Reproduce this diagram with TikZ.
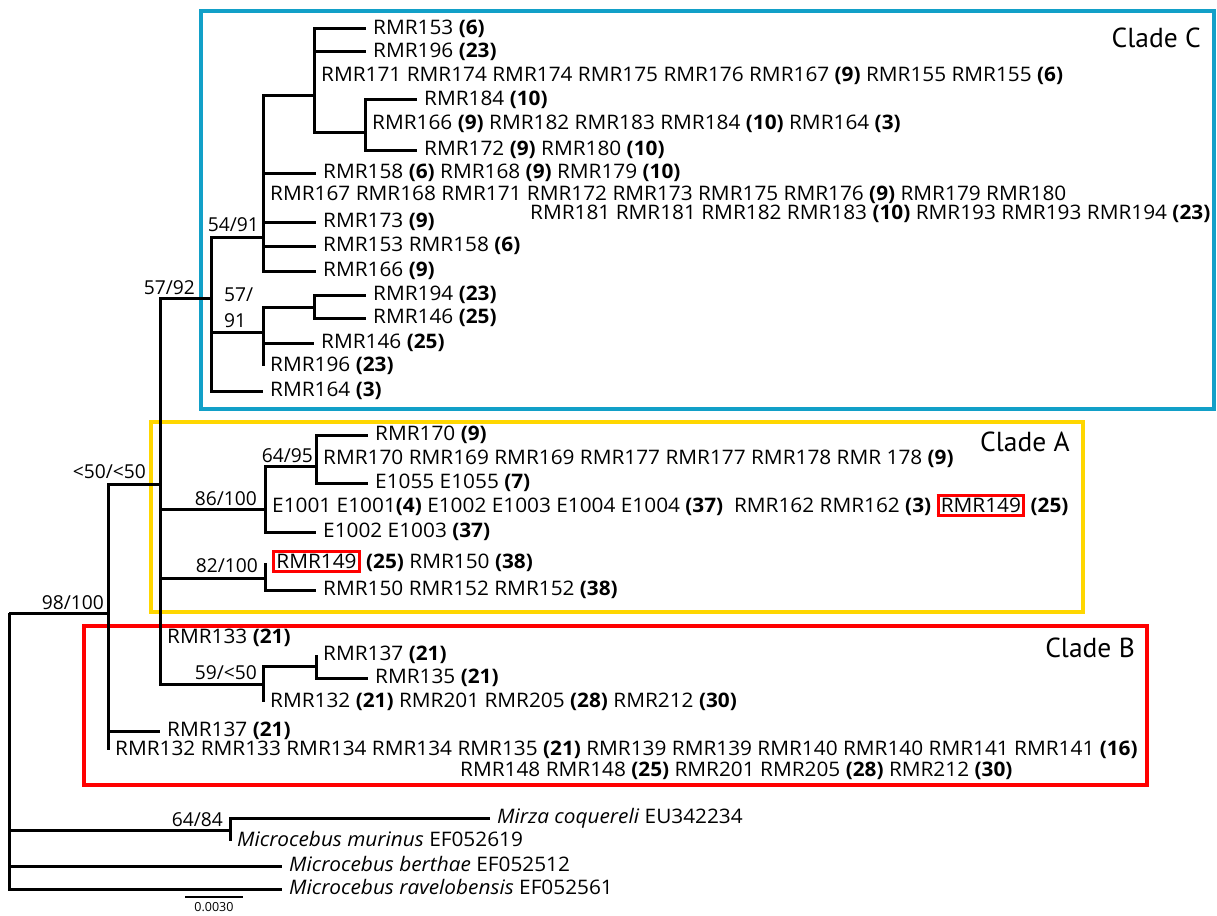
\documentclass[tikz,border=0pt]{standalone}
\usepackage{fontspec}
\setmainfont{Open Sans}[FakeStretch=1.04]
\newfontfamily\bootfont{Open Sans}
\newfontfamily\cladefont{PT Sans}
\usetikzlibrary{positioning}

\definecolor{cladeC}{RGB}{18,160,200}
\definecolor{cladeA}{RGB}{255,215,0}
\definecolor{cladeB}{RGB}{255,0,0}

\newcommand{\hap}[1]{\textbf{(#1)}}
\newcommand{\redbox}[1]{{\setlength{\fboxsep}{1.2pt}\setlength{\fboxrule}{3pt}\fcolorbox{cladeB}{white}{#1}}}

\begin{document}
\begin{tikzpicture}[x=1pt, y=-1pt,
    every node/.style={font=\fontsize{20}{26}\selectfont},
    br/.style={line width=3pt},
    tip/.style={anchor=west, inner sep=0pt, text height=14.5pt, text depth=4pt, xshift=7pt},
    boot/.style={anchor=base east, inner sep=0pt, font=\bootfont\fontsize{19.2}{26}\selectfont},
    clade/.style={line width=3.4pt},
    cladename/.style={anchor=base east, inner sep=0pt, font=\cladefont\fontsize{27.5}{28}\selectfont}]
    \useasboundingbox (0,0) rectangle (1217,915);

    % clade boxes
    \draw[clade, cladeC] (201,11) rectangle (1214,409);
    \draw[clade, cladeA] (151,422) rectangle (1083,612);
    \draw[clade, cladeB] (84,626) rectangle (1147,785);
    \node[cladename] (labC) at (1201,48) {Clade C};
    \node[cladename] (labA) at (1070,451) {Clade A};
    \node[cladename] (labB) at (1135,657) {Clade B};

    % internal nodes
    \coordinate (root) at (9,613);
    \coordinate (ing) at (108,613);
    \coordinate (nAC) at (160,484);
    \coordinate (nC) at (211,298);
    \coordinate (nC1) at (263,237);
    \coordinate (nC11) at (314,96);
    \coordinate (nC111) at (365,132);
    \coordinate (nC2) at (263,332);
    \coordinate (nC21) at (314,307);
    \coordinate (nA1) at (265,509);
    \coordinate (nA11) at (316,466);
    \coordinate (nA2) at (265,578);
    \coordinate (nB1) at (263,684);
    \coordinate (nB11) at (316,666);
    \coordinate (nO) at (230,830);

    % backbone
    \draw[br] (root) -- (ing);
    \draw[br] (root) |- (nO);
    \draw[br] (ing) |- (nAC);
    \draw[br] (nAC) |- (nC);
    \draw[br] (nC) |- (nC1);
    \draw[br] (nC) |- (nC2);
    \draw[br] (nC1) |- (nC11);
    \draw[br] (nC11) |- (nC111);
    \draw[br] (nC2) |- (nC21);
    \draw[br] (nAC) |- (nA1);
    \draw[br] (nA1) |- (nA11);
    \draw[br] (nAC) |- (nA2);
    \draw[br] (nAC) |- (nB1);
    \draw[br] (nB1) |- (nB11);

    % clade C
    \foreach \nm/\x/\y/\txt in {c1/366/29/{RMR153 \hap{6}}, c2/366/52/{RMR196 \hap{23}},
        c3/314/76/{RMR171 RMR174 RMR174 RMR175 RMR176 RMR167 \hap{9} RMR155 RMR155 \hap{6}}} {
      \coordinate (\nm) at (\x,\y);
      \draw[br] (nC11) |- (\nm);
      \node[tip] (l\nm) at (\nm) {\txt};
    }
    \foreach \nm/\x/\y/\txt in {c4/417/100/{RMR184 \hap{10}},
        c5/365/124/{RMR166 \hap{9} RMR182 RMR183 RMR184 \hap{10} RMR164 \hap{3}},
        c6/417/150/{RMR172 \hap{9} RMR180 \hap{10}}} {
      \coordinate (\nm) at (\x,\y);
      \draw[br] (nC111) |- (\nm);
      \node[tip] (l\nm) at (\nm) {\txt};
    }
    \foreach \nm/\x/\y/\txt in {c7/316/173/{RMR158 \hap{6} RMR168 \hap{9} RMR179 \hap{10}},
        c8/263/195/{RMR167 RMR168 RMR171 RMR172 RMR173 RMR175 RMR176 \hap{9} RMR179 RMR180},
        c9/316/222/{RMR173 \hap{9}}, c10/316/246/{RMR153 RMR158 \hap{6}},
        c11/316/271/{RMR166 \hap{9}}} {
      \coordinate (\nm) at (\x,\y);
      \draw[br] (nC1) |- (\nm);
      \node[tip] (l\nm) at (\nm) {\txt};
    }
    \node[tip, xshift=0pt] (lc8b) at (523,214.5) {RMR181 RMR181 RMR182 RMR183 \hap{10} RMR193 RMR193 RMR194 \hap{23}};
    \foreach \nm/\x/\y/\txt in {c12/366/295/{RMR194 \hap{23}}, c13/366/318/{RMR146 \hap{25}}} {
      \coordinate (\nm) at (\x,\y);
      \draw[br] (nC21) |- (\nm);
      \node[tip] (l\nm) at (\nm) {\txt};
    }
    \foreach \nm/\x/\y/\txt in {c14/314/343/{RMR146 \hap{25}}, c15/263/366/{RMR196 \hap{23}}} {
      \coordinate (\nm) at (\x,\y);
      \draw[br] (nC2) |- (\nm);
      \node[tip] (l\nm) at (\nm) {\txt};
    }
    \coordinate (c16) at (263,391);
    \draw[br] (nC) |- (c16);
    \node[tip] (lc16) at (c16) {RMR164 \hap{3}};

    % clade A
    \foreach \nm/\x/\y/\txt in {a1/368/435/{RMR170 \hap{9}},
        a2/316/459/{RMR170 RMR169 RMR169 RMR177 RMR177 RMR178 RMR 178 \hap{9}},
        a3/368/483/{E1055 E1055 \hap{7}}} {
      \coordinate (\nm) at (\x,\y);
      \draw[br] (nA11) |- (\nm);
      \node[tip] (l\nm) at (\nm) {\txt};
    }
    \foreach \nm/\x/\y/\txt in {a4/265/507/{E1001 E1001\hap{4} E1002 E1003 E1004 E1004 \hap{37}\ \ RMR162 RMR162 \hap{3} \redbox{RMR149} \hap{25}},
        a5/316/532/{E1002 E1003 \hap{37}}} {
      \coordinate (\nm) at (\x,\y);
      \draw[br] (nA1) |- (\nm);
      \node[tip] (l\nm) at (\nm) {\txt};
    }
    \foreach \nm/\x/\y/\txt in {a6/265/563/{\redbox{RMR149} \hap{25} RMR150 \hap{38}},
        a7/316/590/{RMR150 RMR152 RMR152 \hap{38}}} {
      \coordinate (\nm) at (\x,\y);
      \draw[br] (nA2) |- (\nm);
      \node[tip] (l\nm) at (\nm) {\txt};
    }

    % clade B
    \coordinate (b1) at (160,638);
    \draw[br] (nAC) |- (b1);
    \node[tip] (lb1) at (b1) {RMR133 \hap{21}};
    \foreach \nm/\x/\y/\txt in {b2/316/655/{RMR137 \hap{21}}, b3/368/678/{RMR135 \hap{21}}} {
      \coordinate (\nm) at (\x,\y);
      \draw[br] (nB11) |- (\nm);
      \node[tip] (l\nm) at (\nm) {\txt};
    }
    \coordinate (b4) at (263,702);
    \draw[br] (nB1) |- (b4);
    \node[tip] (lb4) at (b4) {RMR132 \hap{21} RMR201 RMR205 \hap{28} RMR212 \hap{30}};
    \foreach \nm/\x/\y/\txt in {b5/160/731/{RMR137 \hap{21}},
        b6/108/750/{RMR132 RMR133 RMR134 RMR134 RMR135 \hap{21} RMR139 RMR139 RMR140 RMR140 RMR141 RMR141 \hap{16}}} {
      \coordinate (\nm) at (\x,\y);
      \draw[br] (ing) |- (\nm);
      \node[tip] (l\nm) at (\nm) {\txt};
    }
    \node[tip, xshift=0pt] (lb6b) at (453,771) {RMR148 RMR148 \hap{25} RMR201 RMR205 \hap{28} RMR212 \hap{30}};

    % outgroups
    \foreach \nm/\x/\y/\txt in {o1/490/818/{\textit{Mirza coquereli} EU342234},
        o2/230/841/{\textit{Microcebus murinus} EF052619}} {
      \coordinate (\nm) at (\x,\y);
      \draw[br] (nO) |- (\nm);
      \node[tip] (l\nm) at (\nm) {\txt};
    }
    \foreach \nm/\x/\y/\txt in {o3/282/866/{\textit{Microcebus berthae} EF052512},
        o4/282/889/{\textit{Microcebus ravelobensis} EF052561}} {
      \coordinate (\nm) at (\x,\y);
      \draw[br] (root) |- (\nm);
      \node[tip] (l\nm) at (\nm) {\txt};
    }

    % support values
    \node[boot] (s1) at ([shift={(-4pt,4pt)}]ing) {98/100};
    \node[boot] (s2) at ([shift={(-14pt,6pt)}]nAC) {<50/<50};
    \node[boot] (s3) at ([shift={(-16pt,4pt)}]nC) {57/92};
    \node[boot] (s4) at ([shift={(-4pt,6pt)}]nC1) {54/91};
    \node[boot, anchor=north west, align=left] (s5) at (224,288) {57/\\91};
    \node[boot] (s6) at ([shift={(-8pt,4pt)}]nA1) {86/100};
    \node[boot] (s7) at ([shift={(-3pt,4pt)}]nA11) {64/95};
    \node[boot] (s8) at ([shift={(-7pt,6pt)}]nA2) {82/100};
    \node[boot] (s9) at ([shift={(-6pt,5pt)}]nB1) {59/<50};
    \node[boot] (s10) at ([shift={(-7pt,4pt)}]nO) {64/84};

    % scale bar
    \coordinate (sb1) at (185,897);
    \coordinate (sb2) at (243,897);
    \draw[line width=1.2pt] (sb1) -- (sb2);
    \node[anchor=base, inner sep=0pt, font=\bootfont\fontsize{12.5}{13}\selectfont] (sblab) at (214,911) {0.0030};
\end{tikzpicture}
\end{document}
